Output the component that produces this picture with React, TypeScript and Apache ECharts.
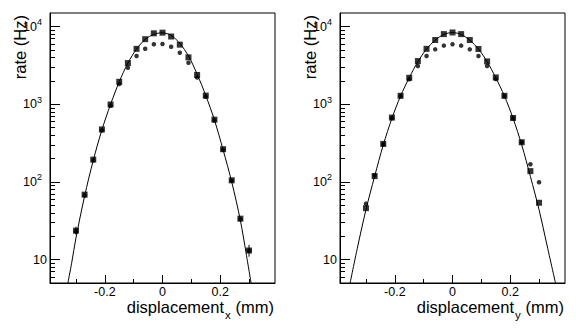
import React, { useEffect, useRef } from "react";
import * as echarts from "echarts";

// ---------- data ----------
const X_POS = [-0.30, -0.27, -0.24, -0.21, -0.18, -0.15, -0.12, -0.09, -0.06, -0.03, 0, 0.03, 0.06, 0.09, 0.12, 0.15, 0.18, 0.21, 0.24, 0.27, 0.30];

const LEFT_SQUARES = [23.6, 68.7, 194, 475, 995, 1950, 3400, 5180, 6900, 8210, 8375, 7470, 5870, 4027, 2390, 1295, 635, 264, 105, 33.7, 13.1];
const LEFT_CIRCLES = [23, 67, 190, 460, 960, 1830, 2960, 4200, 5200, 5930, 5980, 5520, 4620, 3430, 2210, 1250, 620, 260, 104, 33, 13];
const LEFT_ERRORS = [[-0.30, 21, 26.5], [0.30, 10.9, 15.5]];
const LEFT_CURVE = [[-0.328, 5], [-0.315, 9], [-0.30, 19], [-0.27, 66], [-0.24, 190], [-0.21, 470], [-0.18, 1000], [-0.15, 1950], [-0.12, 3400], [-0.09, 5150], [-0.06, 6850], [-0.03, 8000], [0, 8350], [0.03, 7700], [0.06, 6100], [0.09, 4200], [0.12, 2450], [0.15, 1300], [0.18, 630], [0.21, 260], [0.24, 100], [0.27, 32], [0.29, 12], [0.307, 5]];

const RIGHT_SQUARES = [46, 119, 309, 675, 1288, 2197, 3606, 5180, 6730, 8020, 8420, 8020, 6730, 5160, 3570, 2220, 1288, 667, 325, 138, 54];
const RIGHT_CIRCLES = [52.6, 122, 305, 665, 1270, 2100, 3112, 4188, 5105, 5700, 5930, 5700, 5105, 4188, 3120, 2113, 1270, 660, 325, 169, 99];
const RIGHT_CURVE = [[-0.355, 5], [-0.33, 14], [-0.30, 44], [-0.27, 118], [-0.24, 300], [-0.21, 660], [-0.18, 1280], [-0.15, 2200], [-0.12, 3550], [-0.09, 5150], [-0.06, 6700], [-0.03, 7950], [0, 8400], [0.03, 7950], [0.06, 6700], [0.09, 5150], [0.12, 3550], [0.15, 2200], [0.18, 1280], [0.21, 660], [0.24, 300], [0.27, 118], [0.30, 44], [0.33, 14], [0.357, 5]];

const X_MAJOR_TICKS = [-0.2, 0, 0.2];
const X_MINOR_TICKS = [-0.3, -0.1, 0.1, 0.3];
const Y_MAJOR_TICKS = [10, 100, 1000, 10000];
const Y_MINOR_TICKS = [6, 7, 8, 9, 20, 30, 40, 50, 60, 70, 80, 90, 200, 300, 400, 500, 600, 700, 800, 900, 2000, 3000, 4000, 5000, 6000, 7000, 8000, 9000];

const X_MIN = -0.39;
const X_MAX = 0.39;
const Y_MIN = 5;
const Y_MAX = 15000;

const FONT = "Liberation Sans, Arial, Helvetica, sans-serif";

export default function App() {
  const ref = useRef<HTMLDivElement>(null);

  useEffect(() => {
    if (!ref.current) return;
    const chart = echarts.init(ref.current, null, { renderer: "svg" });

    const grids = [
      { left: 50, top: 13, width: 225, height: 270 },
      { left: 340, top: 13, width: 225, height: 270 },
    ];

    const xAxes: any[] = [];
    const yAxes: any[] = [];
    grids.forEach((_, gi) => {
      xAxes.push({
        type: "value",
        gridIndex: gi,
        min: X_MIN,
        max: X_MAX,
        position: "bottom",
        axisLine: { show: true, onZero: false, lineStyle: { color: "#000", width: 1 } },
        axisTick: { show: true, inside: true, length: 8, customValues: X_MAJOR_TICKS, lineStyle: { color: "#000" } },
        axisLabel: {
          show: true,
          customValues: X_MAJOR_TICKS,
          margin: 2.5,
          color: "#000",
          fontFamily: FONT,
          fontSize: 12.5,
          lineHeight: 12,
          formatter: (v: number) => (Math.abs(v) < 1e-9 ? "0" : String(v)),
        },
        splitLine: { show: false },
      });
      xAxes.push({
        type: "value",
        gridIndex: gi,
        min: X_MIN,
        max: X_MAX,
        position: "bottom",
        axisLine: { show: false, onZero: false },
        axisTick: { show: true, inside: true, length: 4, customValues: X_MINOR_TICKS, lineStyle: { color: "#000" } },
        axisLabel: { show: false },
        splitLine: { show: false },
      });
      yAxes.push({
        type: "log",
        logBase: 10,
        gridIndex: gi,
        min: Y_MIN,
        max: Y_MAX,
        position: "left",
        axisLine: { show: true, onZero: false, lineStyle: { color: "#000", width: 1 } },
        axisTick: { show: true, inside: true, length: 10, customValues: Y_MAJOR_TICKS, lineStyle: { color: "#000" } },
        axisLabel: {
          show: true,
          customValues: Y_MAJOR_TICKS,
          margin: 3,
          color: "#000",
          fontFamily: FONT,
          formatter: (v: number) => {
            const n = Math.round(Math.log10(v));
            return n === 1 ? "{p|10}" : "{b|10}{s|" + n + "}";
          },
          rich: {
            p: { fontSize: 12.5, fontFamily: FONT, color: "#000", lineHeight: 18 },
            b: { fontSize: 12.5, fontFamily: FONT, color: "#000", lineHeight: 18 },
            s: { fontSize: 9, fontFamily: FONT, color: "#000", lineHeight: 9, verticalAlign: "top", padding: [0, 5, 0, 0] },
          },
        },
        splitLine: { show: false },
      });
      yAxes.push({
        type: "log",
        logBase: 10,
        gridIndex: gi,
        min: Y_MIN,
        max: Y_MAX,
        position: "left",
        axisLine: { show: false, onZero: false },
        axisTick: { show: true, inside: true, length: 5, customValues: Y_MINOR_TICKS, lineStyle: { color: "#000" } },
        axisLabel: { show: false },
        splitLine: { show: false },
      });
    });

    const errorRender = (params: any, api: any) => {
      const x = api.value(0);
      const p1 = api.coord([x, api.value(1)]);
      const p2 = api.coord([x, api.value(2)]);
      return {
        type: "line",
        shape: { x1: p1[0], y1: p1[1], x2: p2[0], y2: p2[1] },
        style: { stroke: "#000", lineWidth: 1 },
      };
    };

    const panelSeries = (gi: number, squares: number[], circles: number[], curve: number[][], errors: number[][]) => {
      const xi = gi * 2;
      const yi = gi * 2;
      const out: any[] = [
        {
          type: "line",
          xAxisIndex: xi,
          yAxisIndex: yi,
          data: curve,
          smooth: 0.3,
          showSymbol: false,
          symbol: "none",
          lineStyle: { color: "#000", width: 1 },
          z: 2,
          silent: true,
        },
        {
          type: "scatter",
          xAxisIndex: xi,
          yAxisIndex: yi,
          data: X_POS.map((x, i) => [x, circles[i]]),
          symbol: "circle",
          symbolSize: 4.5,
          itemStyle: { color: "#000" },
          z: 3,
        },
        {
          type: "scatter",
          xAxisIndex: xi,
          yAxisIndex: yi,
          data: X_POS.map((x, i) => [x, squares[i]]),
          symbol: "rect",
          symbolSize: 6,
          itemStyle: { color: "#000" },
          z: 4,
        },
      ];
      if (errors.length) {
        out.push({
          type: "custom",
          xAxisIndex: xi,
          yAxisIndex: yi,
          data: errors,
          encode: { x: 0, y: [1, 2] },
          renderItem: errorRender,
          z: 4,
        });
      }
      return out;
    };

    const titleTexts = (dx: number, sub: string) => [
      {
        type: "text",
        x: 20 + dx,
        y: 15,
        rotation: Math.PI / 2,
        style: { text: "rate (Hz)", fontSize: 16.5, fontFamily: FONT, fill: "#000", align: "right", verticalAlign: "middle" },
      },
      {
        type: "text",
        x: 224 + dx,
        y: 307,
        style: { text: "displacement", fontSize: 16.5, lineHeight: 15, fontFamily: FONT, fill: "#000", align: "right", verticalAlign: "middle" },
      },
      {
        type: "text",
        x: 225 + dx,
        y: 315,
        style: { text: sub, fontSize: 11.5, fontFamily: FONT, fill: "#000", align: "left", verticalAlign: "middle" },
      },
      {
        type: "text",
        x: 274 + dx,
        y: 307,
        style: { text: "(mm)", fontSize: 16.5, lineHeight: 15, fontFamily: FONT, fill: "#000", align: "right", verticalAlign: "middle" },
      },
    ];

    chart.setOption({
      animation: false,
      backgroundColor: "#fff",
      grid: grids.map((g) => ({
        ...g,
        show: true,
        borderColor: "#000",
        borderWidth: 1,
        backgroundColor: "transparent",
        containLabel: false,
        outerBoundsMode: "none",
      })),
      xAxis: xAxes,
      yAxis: yAxes,
      series: [
        ...panelSeries(0, LEFT_SQUARES, LEFT_CIRCLES, LEFT_CURVE, LEFT_ERRORS),
        ...panelSeries(1, RIGHT_SQUARES, RIGHT_CIRCLES, RIGHT_CURVE, []),
      ],
      graphic: [...titleTexts(0, "x"), ...titleTexts(290, "y")],
    });

    return () => chart.dispose();
  }, []);

  return <div ref={ref} style={{ position: "fixed", left: 0, top: 0, width: 581, height: 329 }} />;
}
